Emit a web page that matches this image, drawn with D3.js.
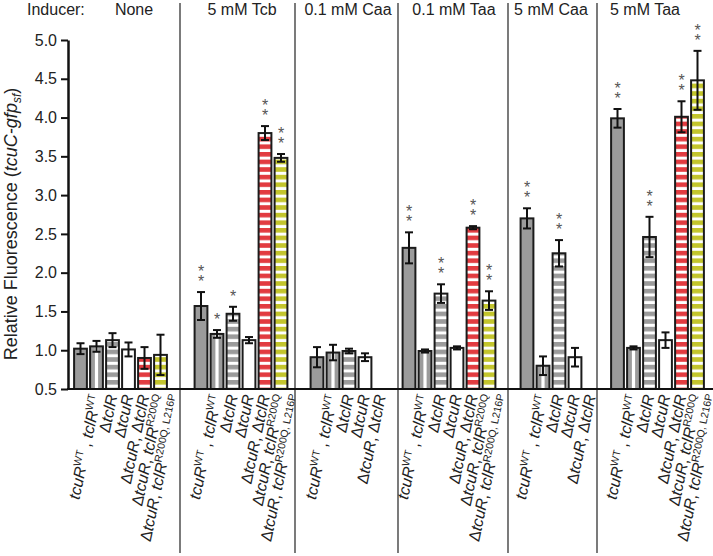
<!DOCTYPE html>
<meta charset="utf-8">
<head>
    <title>tcuC-gfp fluorescence</title>
    <style>
        body { margin: 0; background: #fff; }
        text { font-family: "Liberation Sans", Arial, sans-serif; fill: #222; }
    </style>
</head>

<script src="https://d3js.org/d3.v7.min.js"></script>

<div id="dataVis"></div>

<script>

    var inducers = ["None", "5 mM Tcb", "0.1 mM Caa", "0.1 mM Taa", "5 mM Caa", "5 mM Taa"];
    var strains = ["WT", "dtclR", "dtcuR", "dtcuR_dtclR", "R200Q", "R200Q_L216P"];
    var panelStrains = [
        [0, 1, 2, 3, 4, 5],
        [0, 1, 2, 3, 4, 5],
        [0, 1, 2, 3],
        [0, 1, 2, 3, 4, 5],
        [0, 1, 2, 3],
        [0, 1, 2, 3, 4, 5]];
    var means = [
        [1.02, 1.05, 1.13, 1.01, 0.90, 0.94],
        [1.57, 1.21, 1.47, 1.13, 3.80, 3.48],
        [0.91, 0.97, 0.99, 0.91],
        [2.32, 0.99, 1.73, 1.03, 2.58, 1.64],
        [2.70, 0.80, 2.25, 0.91],
        [3.99, 1.03, 2.46, 1.13, 4.01, 4.48]];
    var errs = [
        [0.07, 0.07, 0.09, 0.09, 0.14, 0.26],
        [0.18, 0.05, 0.09, 0.04, 0.09, 0.05],
        [0.13, 0.10, 0.03, 0.05],
        [0.20, 0.02, 0.12, 0.02, 0.02, 0.12],
        [0.13, 0.12, 0.17, 0.12],
        [0.12, 0.02, 0.26, 0.10, 0.20, 0.38]];
    var stars = [
        ["", "", "", "", "", ""],
        ["**", "*", "*", "", "**", "**"],
        ["", "", "", ""],
        ["**", "", "**", "", "**", "**"],
        ["**", "", "**", ""],
        ["**", "", "**", "", "**", "**"]];
    var yTicks = [0.5, 1.0, 1.5, 2.0, 2.5, 3.0, 3.5, 4.0, 4.5, 5.0];

    // x labels: [text, kind] kind i = italic, n = normal, s = superscript
    var strainLabels = [
        [["tcuR", "i"], ["WT", "s"], [" , ", "n"], ["tclR", "i"], ["WT", "s"]],
        [["Δ", "n"], ["tclR", "i"]],
        [["Δ", "n"], ["tcuR", "i"]],
        [["Δ", "n"], ["tcuR", "i"], [", Δ", "n"], ["tclR", "i"]],
        [["Δ", "n"], ["tcuR", "i"], [", ", "n"], ["tclR", "i"], ["R200Q", "s"]],
        [["Δ", "n"], ["tcuR", "i"], [", ", "n"], ["tclR", "i"], ["R200Q, L216P", "s"]]];

    // layout
    var W = 713, H = 556;
    var panelEdges = [68, 180, 295, 398, 508, 597, 713];
    var bandStart = [72.5, 193, 309, 401, 519, 609.5];
    var slot = 16;
    var headerX = [134, 242, 348, 454, 551, 645];

    var svg = d3.select("#dataVis")
        .append("svg")
        .attr("width", W)
        .attr("height", H);

    // stripe patterns
    var defs = svg.append("defs");
    function hStripe(id, color) {
        var p = defs.append("pattern")
            .attr("id", id)
            .attr("patternUnits", "userSpaceOnUse")
            .attr("width", 8).attr("height", 7.6);
        p.append("rect").attr("width", 8).attr("height", 7.6).attr("fill", color);
        p.append("rect").attr("y", 4.6).attr("width", 8).attr("height", 3).attr("fill", "#fff");
    }
    hStripe("grayStripe", "#9b9b9b");
    hStripe("redStripe", "#e23b40");
    hStripe("yellowStripe", "#c3c52c");

    var fills = ["#9b9b9b", "#9b9b9b", "url(#grayStripe)", "#fff", "url(#redStripe)", "url(#yellowStripe)"];

    var y = d3.scaleLinear()
        .domain([0.5, 5.0])
        .range([389, 40]);

    // one group per inducer
    inducers.forEach(function (ind, p) {
        var x = d3.scaleBand()
            .domain(panelStrains[p])
            .range([bandStart[p], bandStart[p] + slot * panelStrains[p].length])
            .paddingInner(0.2)
            .paddingOuter(0.1);

        var data = panelStrains[p].map(function (s, i) {
            return { s: s, v: means[p][i], e: errs[p][i], star: stars[p][i] };
        });

        var g = svg.append("g");

        // bars
        g.selectAll("rect.bar")
            .data(data)
            .enter()
            .append("rect")
            .attr("class", "bar")
            .attr("x", function (d) { return x(d.s); })
            .attr("width", x.bandwidth())
            .attr("y", function (d) { return y(d.v); })
            .attr("height", function (d) { return y(0.5) - y(d.v); })
            .attr("fill", function (d) { return fills[d.s]; });

        // vertical white stripe for the ΔtclR bar
        g.selectAll("rect.vs")
            .data(data.filter(function (d) { return d.s === 1; }))
            .enter()
            .append("rect")
            .attr("class", "vs")
            .attr("x", function (d) { return x(d.s) + x.bandwidth() / 2 - 1.6; })
            .attr("width", 3.2)
            .attr("y", function (d) { return y(d.v); })
            .attr("height", function (d) { return y(0.5) - y(d.v); })
            .attr("fill", "#fff");

        // outlines
        g.selectAll("rect.outline")
            .data(data)
            .enter()
            .append("rect")
            .attr("class", "outline")
            .attr("x", function (d) { return x(d.s); })
            .attr("width", x.bandwidth())
            .attr("y", function (d) { return y(d.v); })
            .attr("height", function (d) { return y(0.5) - y(d.v); })
            .attr("fill", "none")
            .attr("stroke", "#1b1b1b")
            .attr("stroke-width", 2);

        // error bars
        var eb = g.selectAll("g.err")
            .data(data)
            .enter()
            .append("g")
            .attr("stroke", "#111")
            .attr("stroke-width", 2)
            .attr("transform", function (d) { return "translate(" + (x(d.s) + x.bandwidth() / 2) + ",0)"; });
        eb.append("line")
            .attr("y1", function (d) { return y(d.v + d.e); })
            .attr("y2", function (d) { return y(d.v - d.e); });
        eb.append("line")
            .attr("x1", -4).attr("x2", 4)
            .attr("y1", function (d) { return y(d.v + d.e); })
            .attr("y2", function (d) { return y(d.v + d.e); });
        eb.append("line")
            .attr("x1", -4).attr("x2", 4)
            .attr("y1", function (d) { return y(d.v - d.e); })
            .attr("y2", function (d) { return y(d.v - d.e); });

        // significance stars, stacked in one text
        data.filter(function (d) { return d.star.length > 0; }).forEach(function (d) {
            var cx = x(d.s) + x.bandwidth() / 2;
            var st = g.append("text")
                .attr("text-anchor", "middle")
                .style("font-size", "16px")
                .style("fill", "#555");
            for (var k = 0; k < d.star.length; k++) {
                st.append("tspan")
                    .attr("x", cx)
                    .attr("y", y(d.v + d.e) - 5 - (d.star.length - 1 - k) * 10)
                    .text("*");
            }
        });

        // x labels
        data.forEach(function (d) {
            var t = g.append("text")
                .attr("text-anchor", "end")
                .attr("transform", "translate(" + (x(d.s) + x.bandwidth() / 2 + 21) + ",396) rotate(-78)")
                .style("font-size", "16px");
            strainLabels[d.s].forEach(function (seg) {
                var ts = t.append("tspan").text(seg[0]);
                if (seg[1] === "s") {
                    ts.style("font-size", "10.5px").attr("baseline-shift", "6px");
                } else if (seg[1] === "i") {
                    ts.style("font-style", "italic");
                }
            });
        });

        // header
        svg.append("text")
            .attr("x", headerX[p])
            .attr("y", 15)
            .attr("text-anchor", "middle")
            .style("font-size", "16px")
            .text(ind);
    });

    svg.append("text")
        .attr("x", 27)
        .attr("y", 15)
        .style("font-size", "16px")
        .text("Inducer:");

    // panel dividers
    svg.selectAll("line.div")
        .data(panelEdges.slice(1, 6))
        .enter()
        .append("line")
        .attr("x1", function (d) { return d; })
        .attr("x2", function (d) { return d; })
        .attr("y1", 3)
        .attr("y2", 553)
        .attr("stroke", "#333")
        .attr("stroke-width", 1.3);

    // baseline
    svg.append("line")
        .attr("x1", 67).attr("x2", W)
        .attr("y1", y(0.5)).attr("y2", y(0.5))
        .attr("stroke", "#111")
        .attr("stroke-width", 2);

    // y axis
    var yAxis = svg.append("g")
        .attr("transform", "translate(68,0)")
        .call(d3.axisLeft(y).tickValues(yTicks).tickFormat(d3.format(".1f")).tickSize(7).tickSizeOuter(0).tickPadding(4));
    yAxis.select(".domain").attr("stroke", "#111").attr("stroke-width", 2.5);
    yAxis.selectAll(".tick line").attr("stroke", "#111").attr("stroke-width", 2);
    yAxis.selectAll(".tick text")
        .style("font-size", "16px")
        .style("font-family", "'Liberation Sans', Arial, sans-serif")
        .attr("fill", "#222");

    // y title
    var yt = svg.append("text")
        .attr("text-anchor", "middle")
        .attr("transform", "translate(17,224) rotate(-90)")
        .style("font-size", "18px");
    yt.append("tspan").text("Relative Fluorescence (");
    yt.append("tspan").style("font-style", "italic").text("tcuC-gfp");
    yt.append("tspan").style("font-style", "italic").style("font-size", "12px").attr("baseline-shift", "-4px").text("sf");
    yt.append("tspan").text(")");

</script>
